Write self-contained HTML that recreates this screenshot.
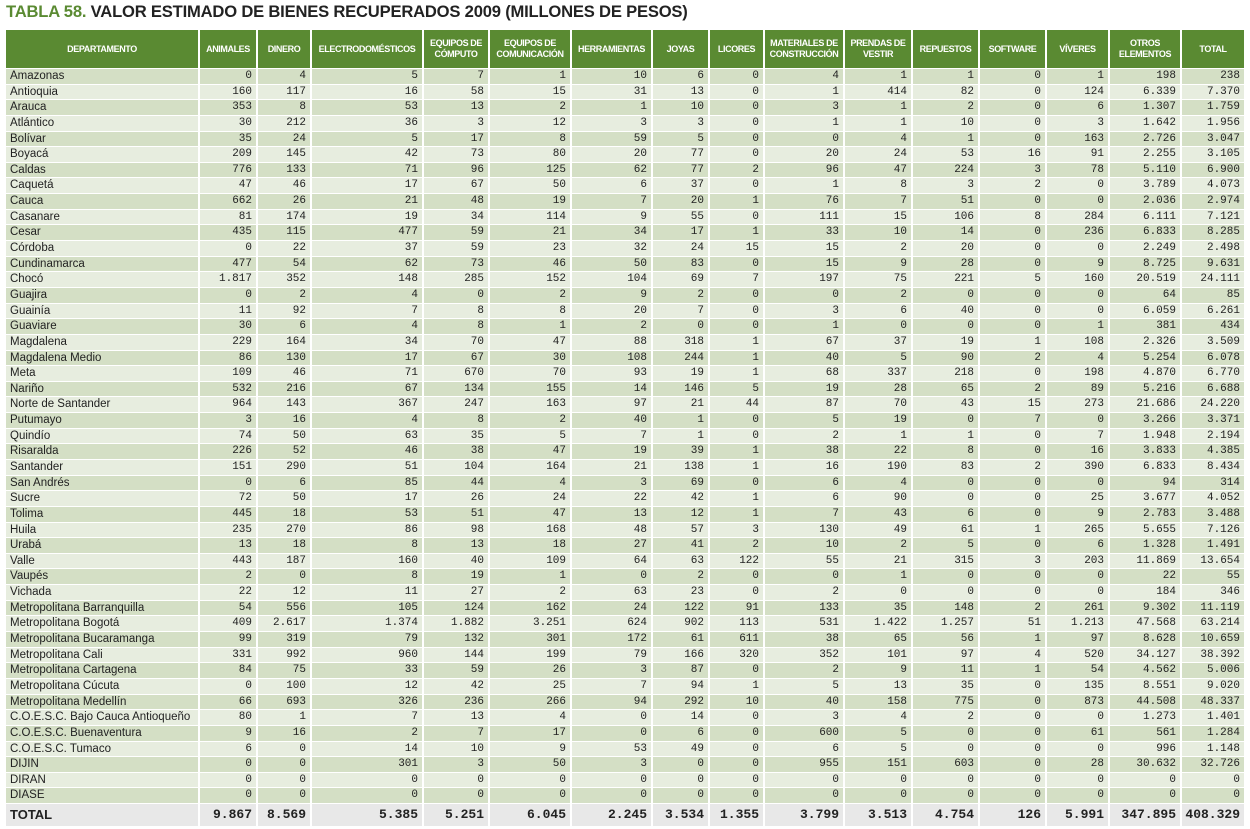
<!DOCTYPE html>
<html><head><meta charset="utf-8">
<style>
body{margin:0;width:1250px;height:829px;background:#fff;position:relative;overflow:hidden;font-family:"Liberation Sans",sans-serif}
#title{position:absolute;left:6px;top:2px;font-size:16.6px;font-weight:bold;color:#222;letter-spacing:-0.2px}
#title span{color:#5a8a32}
.c{position:absolute;box-sizing:border-box;overflow:hidden;white-space:nowrap}
.h{background:#5a8a32;color:#fff;font-weight:bold;font-size:9px;display:flex;align-items:center;justify-content:center;text-align:center;line-height:11px;letter-spacing:-0.4px}
.d{font-size:11.5px;padding-left:4px;color:#222}
.n{font-family:"Liberation Mono",monospace;font-size:11px;text-align:right;padding-right:4px;color:#222}
.t{font-weight:bold;font-size:13px}
</style></head><body>
<div id="title"><span>TABLA 58.</span> VALOR ESTIMADO DE BIENES RECUPERADOS 2009 (MILLONES DE PESOS)</div>
<div id="tbl"></div>
<script>
const headers=["DEPARTAMENTO","ANIMALES","DINERO","ELECTRODOMÉSTICOS","EQUIPOS DE<br>CÓMPUTO","EQUIPOS DE<br>COMUNICACIÓN","HERRAMIENTAS","JOYAS","LICORES","MATERIALES DE<br>CONSTRUCCIÓN","PRENDAS DE<br>VESTIR","REPUESTOS","SOFTWARE","VÍVERES","OTROS<br>ELEMENTOS","TOTAL"];
const rows=[
"Amazonas|0|4|5|7|1|10|6|0|4|1|1|0|1|198|238",
"Antioquia|160|117|16|58|15|31|13|0|1|414|82|0|124|6.339|7.370",
"Arauca|353|8|53|13|2|1|10|0|3|1|2|0|6|1.307|1.759",
"Atlántico|30|212|36|3|12|3|3|0|1|1|10|0|3|1.642|1.956",
"Bolívar|35|24|5|17|8|59|5|0|0|4|1|0|163|2.726|3.047",
"Boyacá|209|145|42|73|80|20|77|0|20|24|53|16|91|2.255|3.105",
"Caldas|776|133|71|96|125|62|77|2|96|47|224|3|78|5.110|6.900",
"Caquetá|47|46|17|67|50|6|37|0|1|8|3|2|0|3.789|4.073",
"Cauca|662|26|21|48|19|7|20|1|76|7|51|0|0|2.036|2.974",
"Casanare|81|174|19|34|114|9|55|0|111|15|106|8|284|6.111|7.121",
"Cesar|435|115|477|59|21|34|17|1|33|10|14|0|236|6.833|8.285",
"Córdoba|0|22|37|59|23|32|24|15|15|2|20|0|0|2.249|2.498",
"Cundinamarca|477|54|62|73|46|50|83|0|15|9|28|0|9|8.725|9.631",
"Chocó|1.817|352|148|285|152|104|69|7|197|75|221|5|160|20.519|24.111",
"Guajira|0|2|4|0|2|9|2|0|0|2|0|0|0|64|85",
"Guainía|11|92|7|8|8|20|7|0|3|6|40|0|0|6.059|6.261",
"Guaviare|30|6|4|8|1|2|0|0|1|0|0|0|1|381|434",
"Magdalena|229|164|34|70|47|88|318|1|67|37|19|1|108|2.326|3.509",
"Magdalena Medio|86|130|17|67|30|108|244|1|40|5|90|2|4|5.254|6.078",
"Meta|109|46|71|670|70|93|19|1|68|337|218|0|198|4.870|6.770",
"Nariño|532|216|67|134|155|14|146|5|19|28|65|2|89|5.216|6.688",
"Norte de Santander|964|143|367|247|163|97|21|44|87|70|43|15|273|21.686|24.220",
"Putumayo|3|16|4|8|2|40|1|0|5|19|0|7|0|3.266|3.371",
"Quindío|74|50|63|35|5|7|1|0|2|1|1|0|7|1.948|2.194",
"Risaralda|226|52|46|38|47|19|39|1|38|22|8|0|16|3.833|4.385",
"Santander|151|290|51|104|164|21|138|1|16|190|83|2|390|6.833|8.434",
"San Andrés|0|6|85|44|4|3|69|0|6|4|0|0|0|94|314",
"Sucre|72|50|17|26|24|22|42|1|6|90|0|0|25|3.677|4.052",
"Tolima|445|18|53|51|47|13|12|1|7|43|6|0|9|2.783|3.488",
"Huila|235|270|86|98|168|48|57|3|130|49|61|1|265|5.655|7.126",
"Urabá|13|18|8|13|18|27|41|2|10|2|5|0|6|1.328|1.491",
"Valle|443|187|160|40|109|64|63|122|55|21|315|3|203|11.869|13.654",
"Vaupés|2|0|8|19|1|0|2|0|0|1|0|0|0|22|55",
"Vichada|22|12|11|27|2|63|23|0|2|0|0|0|0|184|346",
"Metropolitana Barranquilla|54|556|105|124|162|24|122|91|133|35|148|2|261|9.302|11.119",
"Metropolitana Bogotá|409|2.617|1.374|1.882|3.251|624|902|113|531|1.422|1.257|51|1.213|47.568|63.214",
"Metropolitana Bucaramanga|99|319|79|132|301|172|61|611|38|65|56|1|97|8.628|10.659",
"Metropolitana Cali|331|992|960|144|199|79|166|320|352|101|97|4|520|34.127|38.392",
"Metropolitana Cartagena|84|75|33|59|26|3|87|0|2|9|11|1|54|4.562|5.006",
"Metropolitana Cúcuta|0|100|12|42|25|7|94|1|5|13|35|0|135|8.551|9.020",
"Metropolitana Medellín|66|693|326|236|266|94|292|10|40|158|775|0|873|44.508|48.337",
"C.O.E.S.C. Bajo Cauca Antioqueño|80|1|7|13|4|0|14|0|3|4|2|0|0|1.273|1.401",
"C.O.E.S.C. Buenaventura|9|16|2|7|17|0|6|0|600|5|0|0|61|561|1.284",
"C.O.E.S.C. Tumaco|6|0|14|10|9|53|49|0|6|5|0|0|0|996|1.148",
"DIJIN|0|0|301|3|50|3|0|0|955|151|603|0|28|30.632|32.726",
"DIRAN|0|0|0|0|0|0|0|0|0|0|0|0|0|0|0",
"DIASE|0|0|0|0|0|0|0|0|0|0|0|0|0|0|0"];
const totals=["TOTAL","9.867","8.569","5.385","5.251","6.045","2.245","3.534","1.355","3.799","3.513","4.754","126","5.991","347.895","408.329"];
const xs=[6,200,258,312,424,490,572,653,710,765,845,913,980,1047,1110,1182,1246];
const tbl=document.getElementById('tbl');
function cell(cls,x,y,w,h,html,bg){const e=document.createElement('div');e.className='c '+cls;e.style.left=x+'px';e.style.top=y+'px';e.style.width=w+'px';e.style.height=h+'px';e.style.lineHeight=h+'px';if(bg)e.style.background=bg;e.innerHTML=html;tbl.appendChild(e);return e;}
headers.forEach((h,i)=>{const e=cell('h',xs[i],30,xs[i+1]-xs[i]-2,38,h);
e.style.lineHeight='11px';

});
const rh=15.64;
rows.forEach((r,j)=>{const v=r.split('|');const y=Math.round(69+j*rh);const h=Math.round(69+(j+1)*rh)-y-1;const bg=j%2===0?'#d4dfc5':'#e7eddf';
v.forEach((t,i)=>{const e=cell(i===0?'d':'n',xs[i],y,xs[i+1]-xs[i]-2,h,t,bg);

});});
totals.forEach((t,i)=>{const e=cell((i===0?'d':'n')+' t',xs[i],804,xs[i+1]-xs[i]-2,22,t,'#e8e8e8');

});
</script>
</body></html>
